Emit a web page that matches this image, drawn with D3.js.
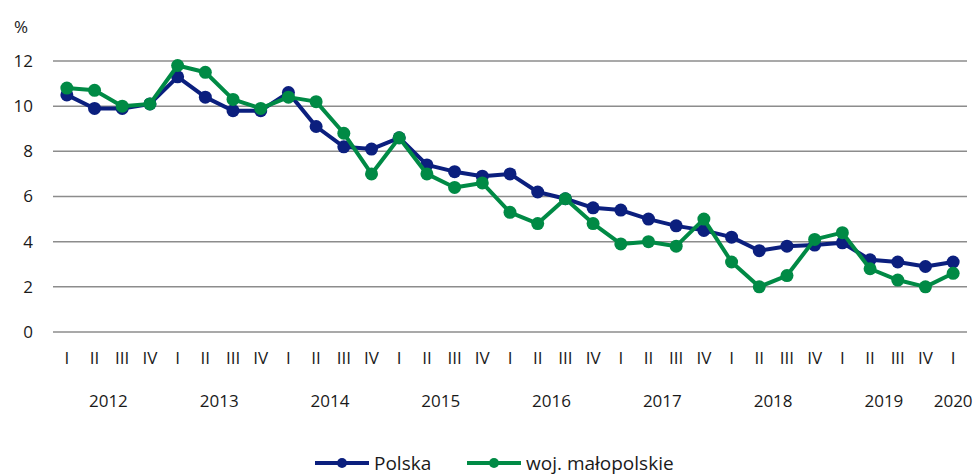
<!DOCTYPE html>
<html>
<head>
<meta charset="utf-8">
<script src="https://cdn.jsdelivr.net/npm/d3@7"></script>
<style>
  body { margin: 0; background: #fff; }
  text { font-family: "Open Sans", "Noto Sans", sans-serif; fill: #1a1a1a; }
</style>
</head>
<body>
<div id="chart"></div>
<script>
// kwartały i lata
const quarters = ["I","II","III","IV","I","II","III","IV","I","II","III","IV","I","II","III","IV",
  "I","II","III","IV","I","II","III","IV","I","II","III","IV","I","II","III","IV","I"];
const years = ["2012","2013","2014","2015","2016","2017","2018","2019","2020"];

// stopa bezrobocia (%)
const polska = [10.5, 9.9, 9.9, 10.1, 11.3, 10.4, 9.8, 9.8, 10.6, 9.1, 8.2, 8.1,
  8.6, 7.4, 7.1, 6.9, 7.0, 6.2, 5.9, 5.5, 5.4, 5.0, 4.7, 4.5,
  4.2, 3.6, 3.8, 3.85, 3.95, 3.2, 3.1, 2.9, 3.1];
const malopolskie = [10.8, 10.7, 10.0, 10.1, 11.8, 11.5, 10.3, 9.9, 10.4, 10.2, 8.8, 7.0,
  8.6, 7.0, 6.4, 6.6, 5.3, 4.8, 5.9, 4.8, 3.9, 4.0, 3.8, 5.0,
  3.1, 2.0, 2.5, 4.1, 4.4, 2.8, 2.3, 2.0, 2.6];
const yTicks = [0, 2, 4, 6, 8, 10, 12];

const series = [
  { name: "Polska", values: polska, color: "#0b1f7e" },
  { name: "woj. małopolskie", values: malopolskie, color: "#008a45" }
];

const W = 976, H = 475;
const svg = d3.select("#chart").append("svg")
  .attr("width", W).attr("height", H);

const x = d3.scaleBand()
  .domain(d3.range(quarters.length))
  .range([53, 967]);
const y = d3.scaleLinear().domain([0, 12]).range([332, 61]);

// siatka
svg.append("g")
  .selectAll("line")
  .data(yTicks)
  .join("line")
  .attr("x1", 53).attr("x2", 967)
  .attr("y1", d => y(d)).attr("y2", d => y(d))
  .attr("stroke", "#8c8c8c")
  .attr("stroke-width", 1.5);

// oś Y
svg.append("g")
  .selectAll("text")
  .data(yTicks)
  .join("text")
  .attr("x", 33).attr("y", d => y(d))
  .attr("dy", "0.35em")
  .attr("text-anchor", "end")
  .attr("font-size", 17)
  .text(d => d);

svg.append("text")
  .attr("x", 14).attr("y", 27)
  .attr("dy", "0.35em")
  .attr("font-size", 17)
  .text("%");

// oś X - kwartały
svg.append("g")
  .selectAll("text")
  .data(quarters)
  .join("text")
  .attr("x", (d, i) => x(i) + x.bandwidth() / 2)
  .attr("y", 358)
  .attr("dy", "0.35em")
  .attr("text-anchor", "middle")
  .attr("font-size", 17)
  .text(d => d);

// oś X - lata
svg.append("g")
  .selectAll("text")
  .data(years)
  .join("text")
  .attr("x", (d, i) => {
    if (i === years.length - 1) return x(i * 4) + x.bandwidth() / 2;
    return x(i * 4 + 1) + x.bandwidth();
  })
  .attr("y", 401)
  .attr("dy", "0.35em")
  .attr("text-anchor", "middle")
  .attr("font-size", 17)
  .text(d => d);

// linie
const line = d3.line()
  .x((d, i) => x(i) + x.bandwidth() / 2)
  .y(d => y(d));

series.forEach(s => {
  const g = svg.append("g");
  g.append("path")
    .datum(s.values)
    .attr("d", line)
    .attr("fill", "none")
    .attr("stroke", s.color)
    .attr("stroke-width", 4)
    .attr("stroke-linejoin", "round");
  g.selectAll("circle")
    .data(s.values)
    .join("circle")
    .attr("cx", (d, i) => x(i) + x.bandwidth() / 2)
    .attr("cy", d => y(d))
    .attr("r", 6.5)
    .attr("fill", s.color);
});

// legenda
const legendPos = [315, 467];
const legend = svg.append("g");
series.forEach((s, i) => {
  const lg = legend.append("g").attr("transform", `translate(${legendPos[i]}, 463)`);
  lg.append("line")
    .attr("x1", 0).attr("x2", 54)
    .attr("stroke", s.color).attr("stroke-width", 4);
  lg.append("circle").attr("cx", 27).attr("r", 5).attr("fill", s.color);
  lg.append("text")
    .attr("x", 59).attr("dy", "0.35em")
    .attr("font-size", 19)
    .text(s.name);
});
</script>
</body>
</html>
